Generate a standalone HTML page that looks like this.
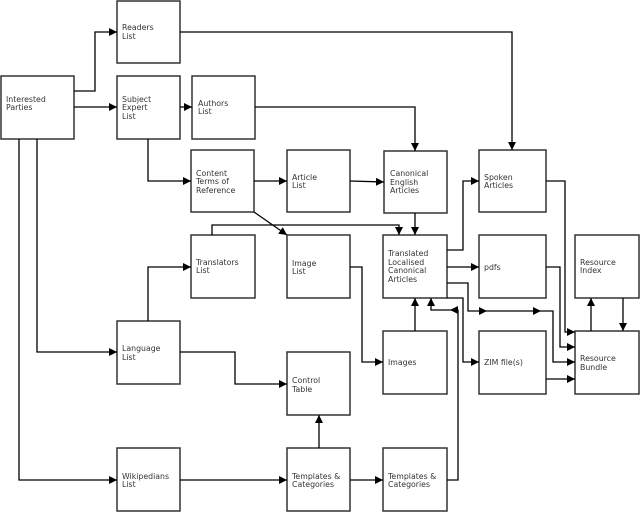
<!DOCTYPE html>
<html><head><meta charset="utf-8"><style>
html,body{margin:0;padding:0;background:#fff;}
svg{display:block;}
text{font-family:"DejaVu Sans","Liberation Sans",sans-serif;font-size:7.8px;fill:#333;}
</style></head><body>
<svg width="640" height="512" viewBox="0 0 640 512" xmlns="http://www.w3.org/2000/svg">
<defs>
<marker id="a" viewBox="0 0 10 10" refX="10" refY="5" markerWidth="8" markerHeight="8" orient="auto" markerUnits="userSpaceOnUse"><path d="M0,0 L10,5 L0,10 z" fill="#000"/></marker>
</defs>
<g fill="#fff" stroke="#333" stroke-width="1.5">
<rect x="117" y="1" width="63" height="62"/>
<rect x="1" y="76" width="73" height="63"/>
<rect x="117" y="76" width="63" height="63"/>
<rect x="192" y="76" width="63" height="63"/>
<rect x="191" y="150" width="63" height="62"/>
<rect x="287" y="150" width="63" height="62"/>
<rect x="384" y="151" width="63" height="62"/>
<rect x="479" y="150" width="67" height="62"/>
<rect x="191" y="235" width="64" height="63"/>
<rect x="287" y="235" width="63" height="63"/>
<rect x="383" y="235" width="64" height="63"/>
<rect x="479" y="235" width="67" height="63"/>
<rect x="575" y="235" width="64" height="63"/>
<rect x="117" y="321" width="63" height="63"/>
<rect x="287" y="352" width="63" height="63"/>
<rect x="383" y="331" width="64" height="63"/>
<rect x="479" y="331" width="67" height="63"/>
<rect x="575" y="331" width="64" height="63"/>
<rect x="117" y="448" width="63" height="63"/>
<rect x="287" y="448" width="63" height="63"/>
<rect x="383" y="448" width="64" height="63"/>
</g>
<g fill="none" stroke="#000" stroke-width="1.3" marker-end="url(#a)">
<polyline points="74,91 95,91 95,32 117,32"/>
<polyline points="74,107 117,107"/>
<polyline points="180,32 512,32 512,150"/>
<polyline points="180,107 192,107"/>
<polyline points="255,107 415,107 415,151"/>
<polyline points="148,139 148,181 191,181"/>
<polyline points="254,181 287,181"/>
<polyline points="350,181 384,182"/>
<polyline points="254,212 287,235"/>
<polyline points="212,235 212,225 399,225 399,235"/>
<polyline points="415,213 415,235"/>
<polyline points="447,250 463,250 463,181 479,181"/>
<polyline points="447,267 479,267"/>
<polyline points="447,283 468,283 468,311 487,311"/>
<polyline points="487,311 541,311"/>
<polyline points="541,311 553,311 553,362 575,362"/>
<polyline points="447,298 463,298 463,362 479,362"/>
<polyline points="447,480 458,480 458,310 450,310"/>
<polyline points="450,310 431,310 431,298"/>
<polyline points="415,331 415,298"/>
<polyline points="350,267 362,267 362,362 383,362"/>
<polyline points="546,181 565,181 565,332 575,332"/>
<polyline points="546,267 560,267 560,347 575,347"/>
<polyline points="546,379 575,379"/>
<polyline points="591,331 591,298"/>
<polyline points="623,298 623,331"/>
<polyline points="19,139 19,480 117,480"/>
<polyline points="37,139 37,352 117,352"/>
<polyline points="148,321 148,267 191,267"/>
<polyline points="180,352 235,352 235,384 287,384"/>
<polyline points="180,480 287,480"/>
<polyline points="319,448 319,415"/>
<polyline points="350,480 383,480"/>
</g>
<text x="122" y="30">Readers</text><text x="122" y="39">List</text>
<text x="6" y="102">Interested</text><text x="6" y="110">Parties</text>
<text x="122" y="102">Subject</text><text x="122" y="110">Expert</text><text x="122" y="119">List</text>
<text x="198" y="106">Authors</text><text x="198" y="114">List</text>
<text x="196" y="176">Content</text><text x="196" y="184">Terms of</text><text x="196" y="193">Reference</text>
<text x="292" y="180">Article</text><text x="292" y="188">List</text>
<text x="390" y="176">Canonical</text><text x="390" y="185">English</text><text x="390" y="193">Articles</text>
<text x="484" y="180">Spoken</text><text x="484" y="188">Articles</text>
<text x="196" y="265">Translators</text><text x="196" y="273">List</text>
<text x="292" y="266">Image</text><text x="292" y="274">List</text>
<text x="388" y="256">Translated</text><text x="388" y="265">Localised</text><text x="388" y="273">Canonical</text><text x="388" y="282">Articles</text>
<text x="484" y="270">pdfs</text>
<text x="580" y="265">Resource</text><text x="580" y="273">Index</text>
<text x="122" y="351">Language</text><text x="122" y="360">List</text>
<text x="292" y="383">Control</text><text x="292" y="392">Table</text>
<text x="388" y="365">Images</text>
<text x="484" y="365">ZIM file(s)</text>
<text x="580" y="361">Resource</text><text x="580" y="370">Bundle</text>
<text x="122" y="479">Wikipedians</text><text x="122" y="487">List</text>
<text x="292" y="479">Templates &amp;</text><text x="292" y="487">Categories</text>
<text x="388" y="479">Templates &amp;</text><text x="388" y="487">Categories</text>
</svg>
</body></html>
